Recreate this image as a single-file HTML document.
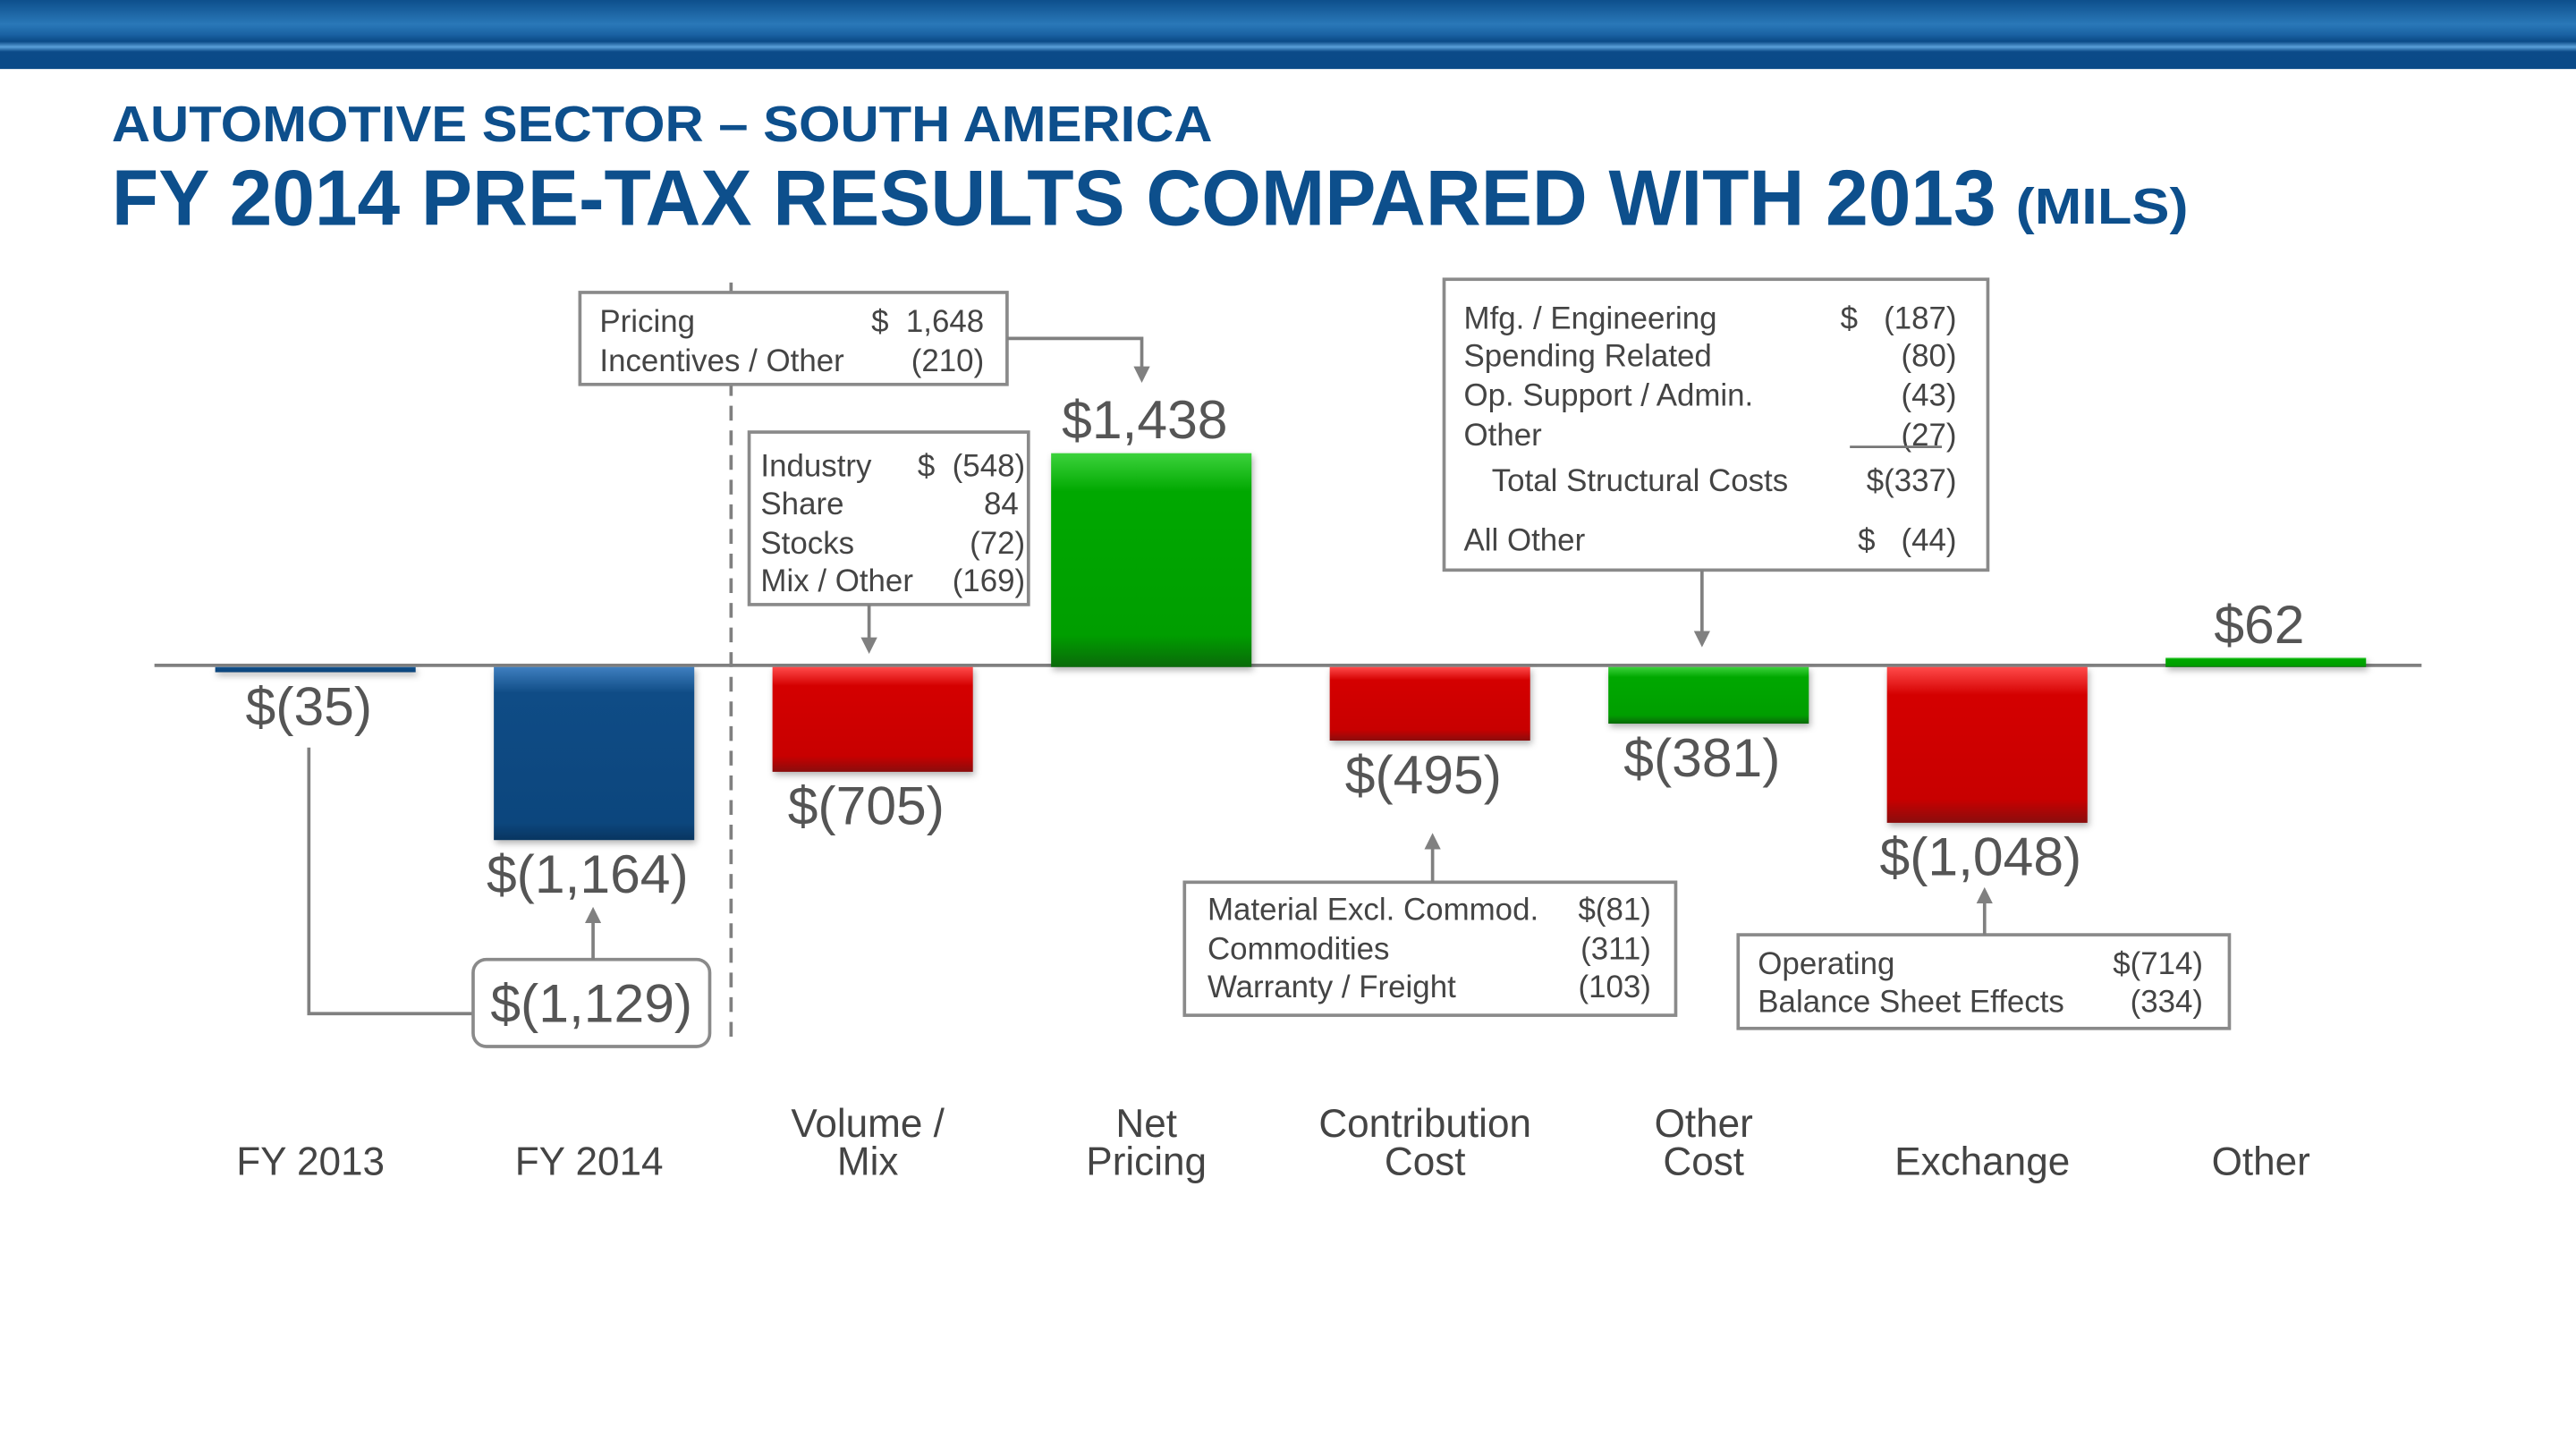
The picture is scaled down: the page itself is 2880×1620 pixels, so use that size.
<!DOCTYPE html>
<html><head><meta charset="utf-8"><style>
html,body{margin:0;padding:0;background:#fff;}
svg{display:block;}
#callouts text{white-space:pre;}
</style></head><body>
<svg id="chart" width="2880" height="1620" viewBox="0 0 1568 882" xmlns="http://www.w3.org/2000/svg" font-family="Liberation Sans, sans-serif">
<defs>
<linearGradient id="banner" x1="0" y1="0" x2="0" y2="1">
<stop offset="0" stop-color="#0d4f8c"/><stop offset="0.35" stop-color="#2a78b8"/><stop offset="0.5" stop-color="#1a62a3"/><stop offset="0.6" stop-color="#0a4a86"/><stop offset="0.68" stop-color="#5aa0d8"/><stop offset="0.75" stop-color="#0b4a88"/><stop offset="1" stop-color="#0a4a88"/>
</linearGradient>
<linearGradient id="g-blue" x1="0" y1="0" x2="0" y2="1"><stop offset="0" stop-color="#3f7fbf"/><stop offset="0.15" stop-color="#0f4c86"/><stop offset="0.9" stop-color="#0c467d"/><stop offset="1" stop-color="#083560"/></linearGradient>
<linearGradient id="g-red" x1="0" y1="0" x2="0" y2="1"><stop offset="0" stop-color="#ff4a4a"/><stop offset="0.18" stop-color="#d40000"/><stop offset="0.85" stop-color="#c80000"/><stop offset="1" stop-color="#8a0d0d"/></linearGradient>
<linearGradient id="g-green" x1="0" y1="0" x2="0" y2="1"><stop offset="0" stop-color="#3cd23c"/><stop offset="0.18" stop-color="#00a800"/><stop offset="0.85" stop-color="#009e00"/><stop offset="1" stop-color="#0a6a0a"/></linearGradient>
<marker id="arr" viewBox="0 0 10 10" refX="5" refY="5" markerWidth="5" markerHeight="5" orient="auto"><path d="M0,0 L10,5 L0,10 z" fill="#808080"/></marker>
</defs>

<rect x="0" y="0" width="1568" height="42" fill="url(#banner)"/>
<text x="68" y="86" font-size="31" font-weight="bold" fill="#0d4f8c" textLength="670" lengthAdjust="spacingAndGlyphs">AUTOMOTIVE SECTOR – SOUTH AMERICA</text>
<text x="68" y="137" font-size="48" font-weight="bold" fill="#0d4f8c" textLength="1147" lengthAdjust="spacingAndGlyphs">FY 2014 PRE-TAX RESULTS COMPARED WITH 2013</text>
<text x="1227" y="136" font-size="31" font-weight="bold" fill="#0d4f8c" textLength="105" lengthAdjust="spacingAndGlyphs">(MILS)</text>

<line x1="94" y1="405" x2="1474" y2="405" stroke="#808080" stroke-width="2"/>
<line x1="445" y1="172" x2="445" y2="636" stroke="#808080" stroke-width="2" stroke-dasharray="9,6"/>
<g id="bars"></g>
<g id="callouts" font-size="19" fill="#444">
  <rect x="353" y="178" width="260" height="56" fill="#fff" stroke="#8a8a8a" stroke-width="2"/>
  <text x="365" y="202">Pricing</text><text x="599" y="202" text-anchor="end">$  1,648</text>
  <text x="365" y="226">Incentives / Other</text><text x="599" y="226" text-anchor="end">(210)</text>
  <polyline points="613,206 695,206 695,228" fill="none" stroke="#808080" stroke-width="2" marker-end="url(#arr)"/>
  <rect x="456" y="263" width="170" height="105" fill="#fff" stroke="#8a8a8a" stroke-width="2"/>
  <text x="463" y="290">Industry</text><text x="624" y="290" text-anchor="end">$  (548)</text>
  <text x="463" y="313">Share</text><text x="620" y="313" text-anchor="end">84</text>
  <text x="463" y="337">Stocks</text><text x="624" y="337" text-anchor="end">(72)</text>
  <text x="463" y="360">Mix / Other</text><text x="624" y="360" text-anchor="end">(169)</text>
  <line x1="529" y1="368" x2="529" y2="393" stroke="#808080" stroke-width="2" marker-end="url(#arr)"/>
  <rect x="879" y="170" width="331" height="177" fill="#fff" stroke="#8a8a8a" stroke-width="2"/>
  <text x="891" y="200">Mfg. / Engineering</text><text x="1191" y="200" text-anchor="end">$   (187)</text>
  <text x="891" y="223">Spending Related</text><text x="1191" y="223" text-anchor="end">(80)</text>
  <text x="891" y="247">Op. Support / Admin.</text><text x="1191" y="247" text-anchor="end">(43)</text>
  <text x="891" y="271">Other</text><text x="1191" y="271" text-anchor="end">(27)</text>
  <line x1="1126" y1="272" x2="1182" y2="272" stroke="#777" stroke-width="1.5"/>
  <text x="908" y="299">Total Structural Costs</text><text x="1191" y="299" text-anchor="end">$(337)</text>
  <text x="891" y="335">All Other</text><text x="1191" y="335" text-anchor="end">$   (44)</text>
  <line x1="1036" y1="347" x2="1036" y2="389" stroke="#808080" stroke-width="2" marker-end="url(#arr)"/>
  <rect x="721" y="537" width="299" height="81" fill="#fff" stroke="#8a8a8a" stroke-width="2"/>
  <text x="735" y="560">Material Excl. Commod.</text><text x="1005" y="560" text-anchor="end">$(81)</text>
  <text x="735" y="584">Commodities</text><text x="1005" y="584" text-anchor="end">(311)</text>
  <text x="735" y="607">Warranty / Freight</text><text x="1005" y="607" text-anchor="end">(103)</text>
  <line x1="872" y1="537" x2="872" y2="512" stroke="#808080" stroke-width="2" marker-end="url(#arr)"/>
  <rect x="1058" y="569" width="299" height="57" fill="#fff" stroke="#8a8a8a" stroke-width="2"/>
  <text x="1070" y="593">Operating</text><text x="1341" y="593" text-anchor="end">$(714)</text>
  <text x="1070" y="616">Balance Sheet Effects</text><text x="1341" y="616" text-anchor="end">(334)</text>
  <line x1="1208" y1="569" x2="1208" y2="545" stroke="#808080" stroke-width="2" marker-end="url(#arr)"/>
  <polyline points="188,455 188,617 288,617" fill="none" stroke="#808080" stroke-width="2"/>
  <rect x="288" y="584" width="144" height="53" rx="8" fill="#fff" stroke="#8a8a8a" stroke-width="2"/>
  <text x="360" y="622" font-size="33" text-anchor="middle" fill="#555">$(1,129)</text>
  <line x1="361" y1="584" x2="361" y2="557" stroke="#808080" stroke-width="2" marker-end="url(#arr)"/>
</g>
<g id="cats"></g>
</svg>
<script>
const categories = [["FY 2013"],["FY 2014"],["Volume /","Mix"],["Net","Pricing"],["Contribution","Cost"],["Other","Cost"],["Exchange"],["Other"]];
const values = [-35, -1164, -705, 1438, -495, -381, -1048, 62];
const valueLabels = ["$(35)","$(1,164)","$(705)","$1,438","$(495)","$(381)","$(1,048)","$62"];
const colors = ["blue","blue","red","green","red","green","red","green"];

const NS = "http://www.w3.org/2000/svg";
const axisY = 406, x0 = 192, step = 169.6, barW = 122, scale = 0.0905;
function xCenter(i){ return x0 + i*step; }
function yVal(v){ return axisY - v*scale; }
function mk(tag, attrs){ const e=document.createElementNS(NS,tag); for(const k in attrs) e.setAttribute(k, attrs[k]); return e; }
const bars = document.getElementById('bars');
const cats = document.getElementById('cats');
values.forEach((v,i)=>{
  const cx = xCenter(i);
  const yTop = Math.min(yVal(v), axisY), yBot = Math.max(yVal(v), axisY);
  const h = Math.max(yBot - yTop, 3);
  const r = mk('rect',{x:cx-barW/2, y:yTop, width:barW, height:h, fill:'url(#g-'+colors[i]+')'});
  
  
  r.setAttribute('style','filter:drop-shadow(1px 2px 2px rgba(0,0,0,0.3))');
  bars.appendChild(r);
  const t = mk('text',{x:cx - 4, 'text-anchor':'middle', 'font-size':33, fill:'#555'});
  t.setAttribute('y', v < 0 ? yBot + 32 : yTop - 9);
  t.textContent = valueLabels[i];
  
  
  bars.appendChild(t);
  const lines = categories[i];
  lines.forEach((ln,j)=>{
    const c = mk('text',{x:cx - 3, 'text-anchor':'middle', 'font-size':24, fill:'#444'});
    c.setAttribute('y', lines.length===1 ? 715 : 692 + j*23);
    c.textContent = ln;
    
    
    cats.appendChild(c);
  });
});
</script>
</body></html>
